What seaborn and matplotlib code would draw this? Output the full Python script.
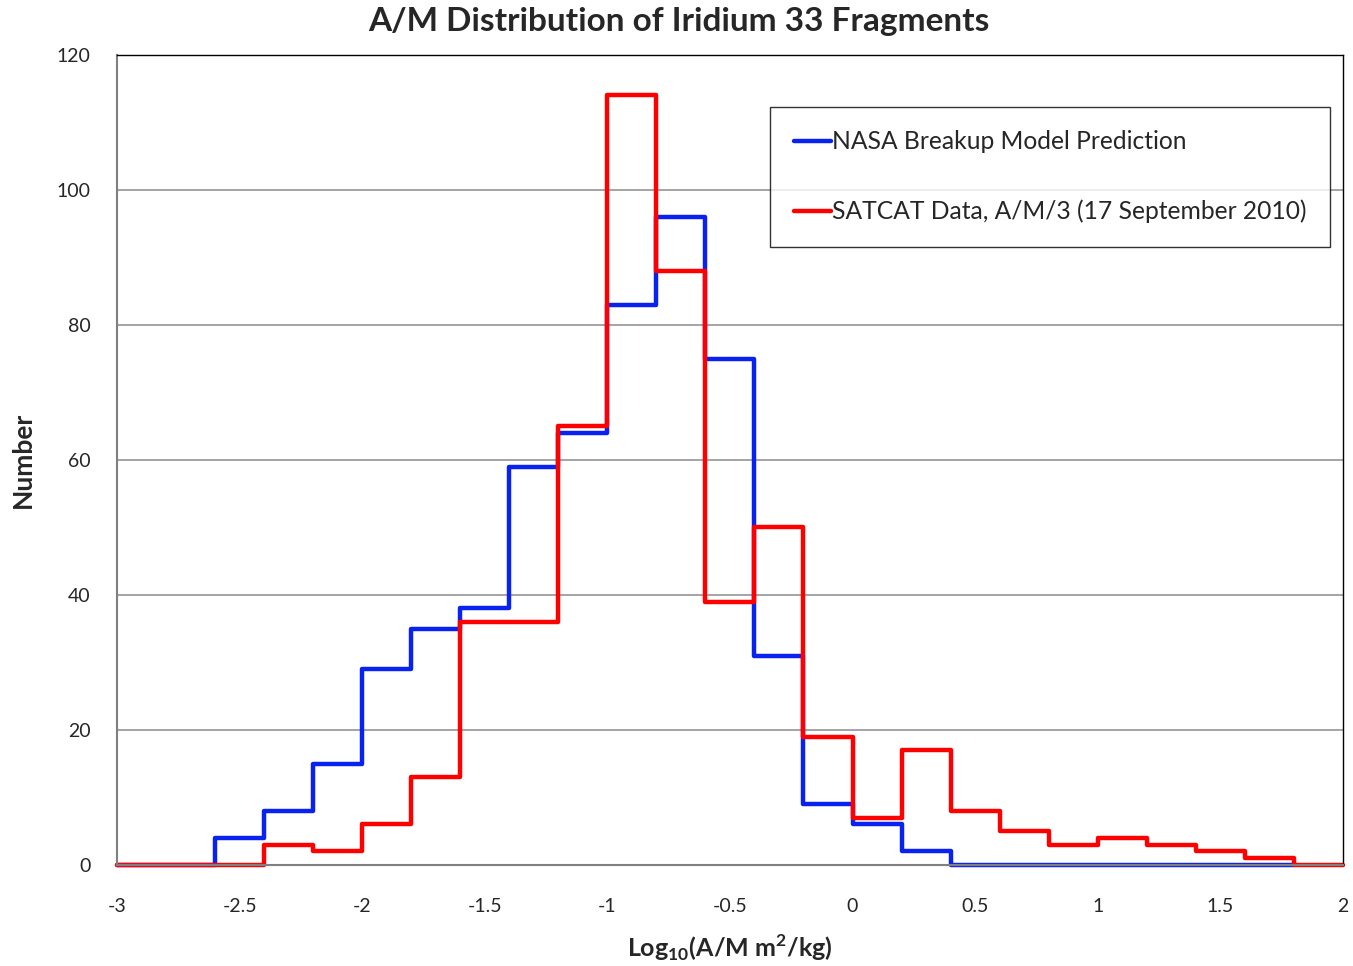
import matplotlib
matplotlib.use("Agg")
import matplotlib.pyplot as plt
import numpy as np
import pandas as pd
import seaborn as sns
from matplotlib.ticker import MultipleLocator, FormatStrFormatter

# bin edges (log10 A/M)
nasa_edges = [-3.0, -2.8, -2.6, -2.4, -2.2, -2.0, -1.8, -1.6, -1.4, -1.2, -1.0,
              -0.8, -0.6, -0.4, -0.2, 0.0, 0.2, 0.4, 0.6, 0.8, 1.0, 1.2, 1.4,
              1.6, 1.8]
nasa_counts = [0, 0, 4, 8, 15, 29, 35, 38, 59, 64, 83, 96, 75, 31, 9, 6, 2,
               0, 0, 0, 0, 0, 0, 0, 0]

satcat_edges = [-3.0, -2.8, -2.6, -2.4, -2.2, -2.0, -1.8, -1.6, -1.4, -1.2,
                -1.0, -0.8, -0.6, -0.4, -0.2, 0.0, 0.2, 0.4, 0.6, 0.8, 1.0,
                1.2, 1.4, 1.6, 1.8, 2.0]
satcat_counts = [0, 0, 0, 3, 2, 6, 13, 36, 36, 65, 114, 88, 39, 50, 19, 7, 17,
                 8, 5, 3, 4, 3, 2, 1, 0, 0]

nasa_label = "NASA Breakup Model Prediction"
satcat_label = "SATCAT Data, A/M/3 (17 September 2010)"

sns.set_style("white")
plt.rcParams['font.family'] = ['Lato', 'DejaVu Sans']
plt.rcParams['mathtext.fontset'] = 'custom'
plt.rcParams['mathtext.rm'] = 'Lato'
plt.rcParams['mathtext.bf'] = 'Lato:bold'

fig = plt.figure(figsize=(13.53, 9.66), dpi=100)
ax = fig.add_axes([0.0865, 0.1046, 0.906, 0.8385])

df_nasa = pd.DataFrame({'x': nasa_edges, 'y': nasa_counts})
df_sat = pd.DataFrame({'x': satcat_edges, 'y': satcat_counts})

sns.lineplot(data=df_nasa, x='x', y='y', drawstyle='steps-post', color='#0a22f0',
             linewidth=3.2, label=nasa_label, ax=ax)
sns.lineplot(data=df_sat, x='x', y='y', drawstyle='steps-post', color='#ff0000',
             linewidth=3.2, label=satcat_label, ax=ax)
for line in ax.get_lines():
    line.set_clip_on(False)

ax.set_xlim(-3, 2)
ax.set_ylim(0, 120)
ax.xaxis.set_major_locator(MultipleLocator(0.5))
ax.xaxis.set_minor_locator(MultipleLocator(0.1))
ax.yaxis.set_major_locator(MultipleLocator(20))
ax.yaxis.set_minor_locator(MultipleLocator(10))
ax.xaxis.set_major_formatter(FormatStrFormatter('%g'))

ax.grid(axis='y', which='major', color='#8c8c8c', linewidth=1.1)
ax.set_axisbelow(True)

ax.tick_params(axis='x', which='both', direction='in', length=5, color='#808080',
               labelsize=14, pad=24)
ax.tick_params(axis='y', which='both', direction='in', length=5, color='#808080',
               labelsize=14, pad=19)

for side in ['left', 'bottom']:
    ax.spines[side].set_color('#808080')
    ax.spines[side].set_linewidth(1.5)
for side in ['top', 'right']:
    ax.spines[side].set_color('black')
    ax.spines[side].set_linewidth(1.0)

fig.suptitle('A/M Distribution of Iridium 33 Fragments', fontsize=24,
             fontweight='bold', x=0.502, y=0.993, va='top')
ax.set_ylabel('Number', fontsize=19, fontweight='bold')
ax.yaxis.set_label_coords(-0.067, 0.5)
ax.set_xlabel(r'Log$_{\mathbf{10}}$(A/M m$^{\mathbf{2}}$/kg)', fontsize=18,
              fontweight='bold', labelpad=12)

leg = ax.legend(loc='upper left', bbox_to_anchor=(0.533, 0.936), fontsize=17.7,
                frameon=True, fancybox=False, edgecolor='black',
                handlelength=1.5, handletextpad=0.05, labelspacing=1.9,
                borderpad=0.95, borderaxespad=0)
leg.get_frame().set_linewidth(1.0)

fig.savefig('out.png', dpi=100)
